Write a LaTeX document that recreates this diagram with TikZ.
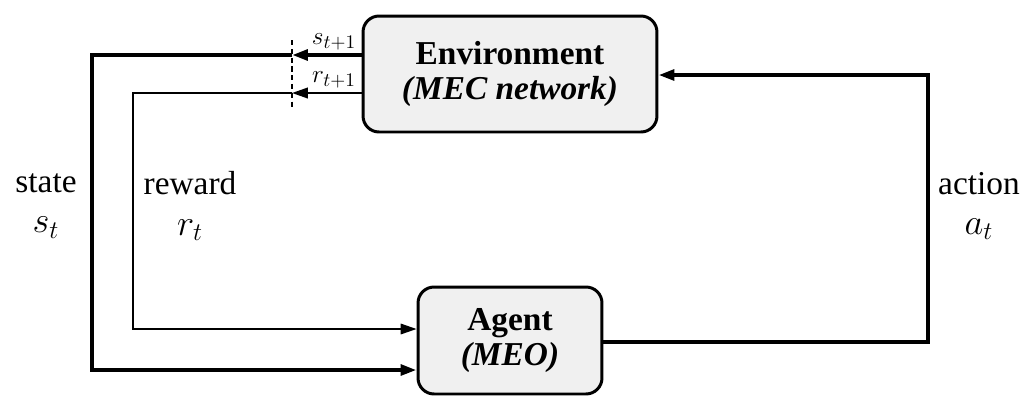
\documentclass[tikz,border=0pt]{standalone}
\usepackage{fontspec}
\setmainfont{Liberation Serif}
\usetikzlibrary{arrows.meta}
\newcommand{\bigmath}[1]{{\fontsize{22}{22}\selectfont$#1$}}
\tikzset{
  block/.style={draw, line width=1.7pt, rounded corners=0.32cm, fill=black!6,
    align=center, inner sep=0pt, font=\fontsize{19}{19.5}\selectfont\bfseries},
  heavy/.style={line width=2.2pt},
  light/.style={line width=0.85pt},
  tip/.style={-{Triangle[length=9pt,width=6pt]}},
  lbl/.style={align=center, inner sep=0pt, font=\fontsize{19}{23}\selectfont},
  small/.style={inner sep=0pt, font=\fontsize{15.5}{16}\selectfont},
}
\begin{document}
\begin{tikzpicture}[x=0.02cm, y=-0.02cm]
\useasboundingbox (0,0) rectangle (1035,397);

% the two blocks
\node[block, minimum width=5.88cm, minimum height=2.32cm] (env) at (510,74)
  {Environment\\\itshape (MEC network)};
\node[block, minimum width=3.68cm, minimum height=2.14cm] (agent) at (510,340.5)
  {Agent\\\itshape (MEO)};

% time-step boundary
\coordinate (dtop) at (292,40);
\coordinate (dbot) at (292,107);
\draw[light, dashed, dash pattern=on 3pt off 2pt] (dtop) -- (dbot);

% state loop
\coordinate (sx) at (292,55);
\coordinate (sl) at (92,55);
\coordinate (sb) at (92,370);
\draw[heavy, tip] (env.west |- sx) -- (sx);
\draw[heavy, tip] (sx) -- (sl) -- (sb) -- (agent.west |- sb);
\node[small, anchor=south] (snext) at (334,50) {$s_{t+1}$};

% reward loop
\coordinate (rx) at (292,93);
\coordinate (rl) at (133,93);
\coordinate (rb) at (133,329);
\draw[light, line width=1.1pt, tip] (env.west |- rx) -- (rx);
\draw[light, tip] (rx) -- (rl) -- (rb) -- (agent.west |- rb);
\node[small, anchor=south] (rnext) at (334,88) {$r_{t+1}$};

% action loop
\coordinate (ab) at (928,342);
\coordinate (at) at (928,75);
\draw[heavy, tip] (agent.east |- ab) -- (ab) -- (at) -- (env.east |- at);

% side labels
\node[lbl] (state) at (46,206) {state\\\bigmath{s_t}};
\node[lbl] (reward) at (190,206) {reward\\\bigmath{r_t}};
\node[lbl] (action) at (979,206) {action\\\bigmath{a_t}};
\end{tikzpicture}
\end{document}
